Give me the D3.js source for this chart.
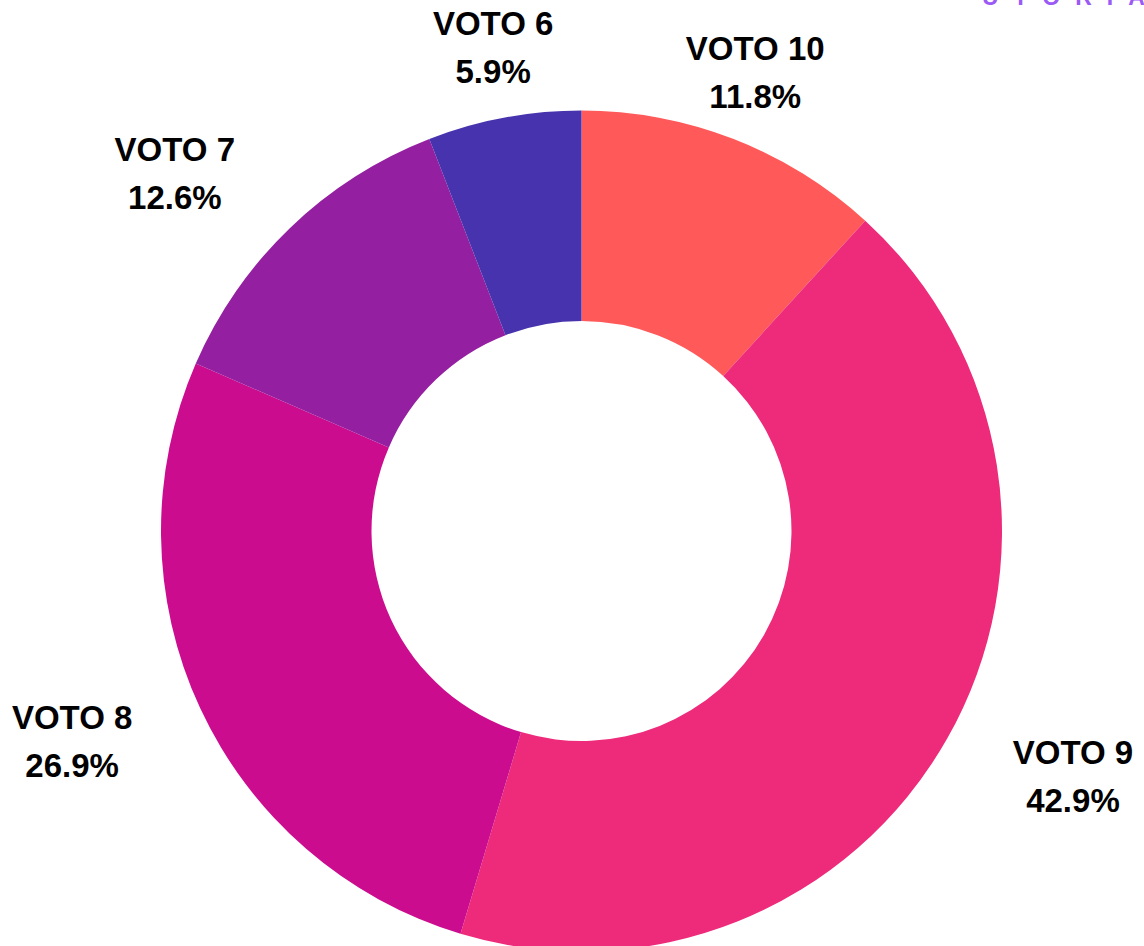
<!DOCTYPE html>
<html>
<head>
<meta charset="utf-8">
<script src="https://cdn.jsdelivr.net/npm/d3@7"></script>
<style>
  html, body { margin: 0; padding: 0; background: #fff; }
  svg { display: block; }
</style>
</head>
<body>
<div id="chart"></div>
<script>
// data, in drawing order (clockwise from 12 o'clock)
const categories = ["VOTO 10", "VOTO 9", "VOTO 8", "VOTO 7", "VOTO 6"];
const shares = [11.8, 42.9, 26.9, 12.6, 5.9];
const sliceColors = ["#ff595a", "#ee2a7b", "#cc0c8f", "#951fa1", "#4733ad"];

const W = 1144, H = 946;
const cx = 581.5, cy = 531;
const outerR = 420.5, innerR = 210;
const labelR = 480;

const svg = d3.select("#chart").append("svg")
  .attr("width", W)
  .attr("height", H);

// brand text, cut by the top edge (as in the source image)
svg.append("text")
  .attr("x", 982)
  .attr("y", 5)
  .attr("font-family", "'Liberation Sans', Arial, sans-serif")
  .attr("font-weight", "bold")
  .attr("font-size", 23)
  .attr("letter-spacing", 15)
  .attr("fill", "#9b59f5")
  .text("UTORIA");

const rows = categories.map((c, i) => ({ label: c, value: shares[i], color: sliceColors[i] }));

const pie = d3.pie()
  .value(d => d.value)
  .sort(null);

const arc = d3.arc()
  .innerRadius(innerR)
  .outerRadius(outerR);

const g = svg.append("g")
  .attr("transform", `translate(${cx},${cy})`);

const arcs = pie(rows);

g.selectAll("path")
  .data(arcs)
  .join("path")
  .attr("fill", d => d.data.color)
  .attr("d", arc);

// labels: on a ring outside the donut, pushed sideways for the side slices
const fmt = d => d3.format(".1f")(d) + "%";

const labels = g.selectAll("g.lbl")
  .data(arcs)
  .join("g")
  .attr("class", "lbl")
  .attr("transform", d => {
    const a = (d.startAngle + d.endAngle) / 2;
    const s = Math.sin(a), c = Math.cos(a);
    let x = labelR * s;
    let y = -labelR * c;
    if (Math.abs(s) > 0.5) x += Math.sign(s) * 74;
    if (c < 0) y += 20;
    return `translate(${x},${y})`;
  });

labels.append("text")
  .attr("y", -24)
  .text(d => d.data.label);

labels.append("text")
  .attr("y", 24)
  .text(d => fmt(d.data.value));

labels.selectAll("text")
  .attr("text-anchor", "middle")
  .attr("font-family", "'Liberation Sans', Arial, sans-serif")
  .attr("font-weight", "bold")
  .attr("font-size", 33)
  .attr("fill", "#000");
</script>
</body>
</html>
